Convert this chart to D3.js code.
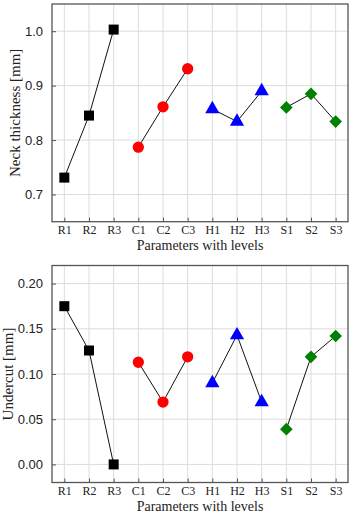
<!DOCTYPE html>
<html>
<head>
<meta charset="utf-8">
<script src="https://cdn.jsdelivr.net/npm/d3@7"></script>
<style>
  body { margin: 0; background: #fff; }
  svg { display: block; }
</style>
</head>
<body>
<svg id="chart" width="353" height="514"></svg>
<script>
// Levels along the x axis, 3 per parameter
const levels = ["R1", "R2", "R3", "C1", "C2", "C3", "H1", "H2", "H3", "S1", "S2", "S3"];
const groups = ["R", "C", "H", "S"];
const groupColors = ["#000000", "#ff0000", "#0000ff", "#008000"];

const neckThickness = [0.731, 0.845, 1.003, 0.787, 0.861, 0.931, 0.857, 0.834, 0.890, 0.860, 0.885, 0.834];
const undercut = [0.175, 0.126, 0.000, 0.113, 0.069, 0.119, 0.090, 0.143, 0.069, 0.039, 0.119, 0.142];

const neckTicks = [0.7, 0.8, 0.9, 1.0];
const undercutTicks = [0.00, 0.05, 0.10, 0.15, 0.20];

const height = 514;
const svg = d3.select("#chart");

const x = d3.scaleLinear()
    .domain([-0.5, levels.length - 0.5])
    .range([52, 348]);

const symbols = [
    d3.symbol().type(d3.symbolSquare).size(100),
    d3.symbol().type(d3.symbolCircle).size(100),
    d3.symbol().type(d3.symbolTriangle).size(88),
    d3.symbol().type(d3.symbolSquare).size(80)
];

/**
 * Draws one panel: frame, grid, axes, group lines and markers.
 */
function drawPanel(top, bottom, values, domain, ticks, fmt, yLabel, yLabelX) {
    const y = d3.scaleLinear().domain(domain).range([bottom, top]);
    const g = svg.append("g");

    // Grid lines
    g.selectAll(".vgrid")
        .data(levels)
        .enter().append("line")
        .attr("x1", (d, i) => x(i))
        .attr("x2", (d, i) => x(i))
        .attr("y1", top)
        .attr("y2", bottom)
        .attr("stroke", "#dcdcdc")
        .attr("stroke-width", 1);

    g.selectAll(".hgrid")
        .data(ticks)
        .enter().append("line")
        .attr("x1", x.range()[0])
        .attr("x2", x.range()[1])
        .attr("y1", d => y(d))
        .attr("y2", d => y(d))
        .attr("stroke", "#dcdcdc")
        .attr("stroke-width", 1);

    // Left axis, ticks pointing inward
    const yAxis = g.append("g")
        .attr("transform", `translate(${x.range()[0]},0)`)
        .call(d3.axisLeft(y).tickValues(ticks).tickFormat(fmt).tickSizeInner(-4).tickSizeOuter(0).tickPadding(9));
    yAxis.select(".domain").remove();
    yAxis.selectAll("line").attr("stroke", "#555");
    yAxis.selectAll("text")
        .style("font-family", "'Liberation Sans', Arial, sans-serif")
        .style("font-size", "13px")
        .attr("fill", "#222");

    // Bottom axis, ticks pointing inward
    const xAxis = g.append("g")
        .attr("transform", `translate(0,${bottom})`)
        .call(d3.axisBottom(x).tickValues(d3.range(levels.length)).tickFormat(i => levels[i]).tickSizeInner(-4).tickSizeOuter(0).tickPadding(4));
    xAxis.select(".domain").remove();
    xAxis.selectAll("line").attr("stroke", "#555");
    xAxis.selectAll("text")
        .style("font-family", "'Liberation Serif', 'Times New Roman', serif")
        .style("font-size", "12px")
        .attr("fill", "#222");

    // Frame
    g.append("rect")
        .attr("x", x.range()[0])
        .attr("y", top)
        .attr("width", x.range()[1] - x.range()[0])
        .attr("height", bottom - top)
        .attr("fill", "none")
        .attr("stroke", "#555")
        .attr("stroke-width", 1.3);

    // Lines within each parameter group
    const line = d3.line()
        .x(d => x(d.i))
        .y(d => y(d.v));

    groups.forEach((grp, k) => {
        const pts = d3.range(3).map(j => ({ i: k * 3 + j, v: values[k * 3 + j] }));
        g.append("path")
            .datum(pts)
            .attr("d", line)
            .attr("fill", "none")
            .attr("stroke", "#111")
            .attr("stroke-width", 1);

        g.selectAll(".m" + grp)
            .data(pts)
            .enter().append("path")
            .attr("d", symbols[k])
            .attr("transform", d => `translate(${x(d.i)},${y(d.v)})` + (grp === "S" ? " rotate(45)" : ""))
            .attr("fill", groupColors[k]);
    });

    // Axis titles (kept inside the page at the bottom edge)
    g.append("text")
        .attr("x", (x.range()[0] + x.range()[1]) / 2)
        .attr("y", Math.min(bottom + 28, height - 3.5))
        .attr("text-anchor", "middle")
        .style("font-family", "'Liberation Serif', 'Times New Roman', serif")
        .style("font-size", "14px")
        .attr("fill", "#222")
        .text("Parameters with levels");

    g.append("text")
        .attr("transform", `translate(${yLabelX},${(top + bottom) / 2}) rotate(-90)`)
        .attr("dy", "0.35em")
        .attr("text-anchor", "middle")
        .style("font-family", "'Liberation Serif', 'Times New Roman', serif")
        .style("font-size", "15px")
        .attr("fill", "#222")
        .text(yLabel);
}

drawPanel(4, 221.7, neckThickness, [0.65, 1.05], neckTicks, d3.format(".1f"), "Neck thickness [mm]", 15);
drawPanel(265.5, 482.5, undercut, [-0.02, 0.22], undercutTicks, d3.format(".2f"), "Undercut [mm]", 8);
</script>
</body>
</html>
